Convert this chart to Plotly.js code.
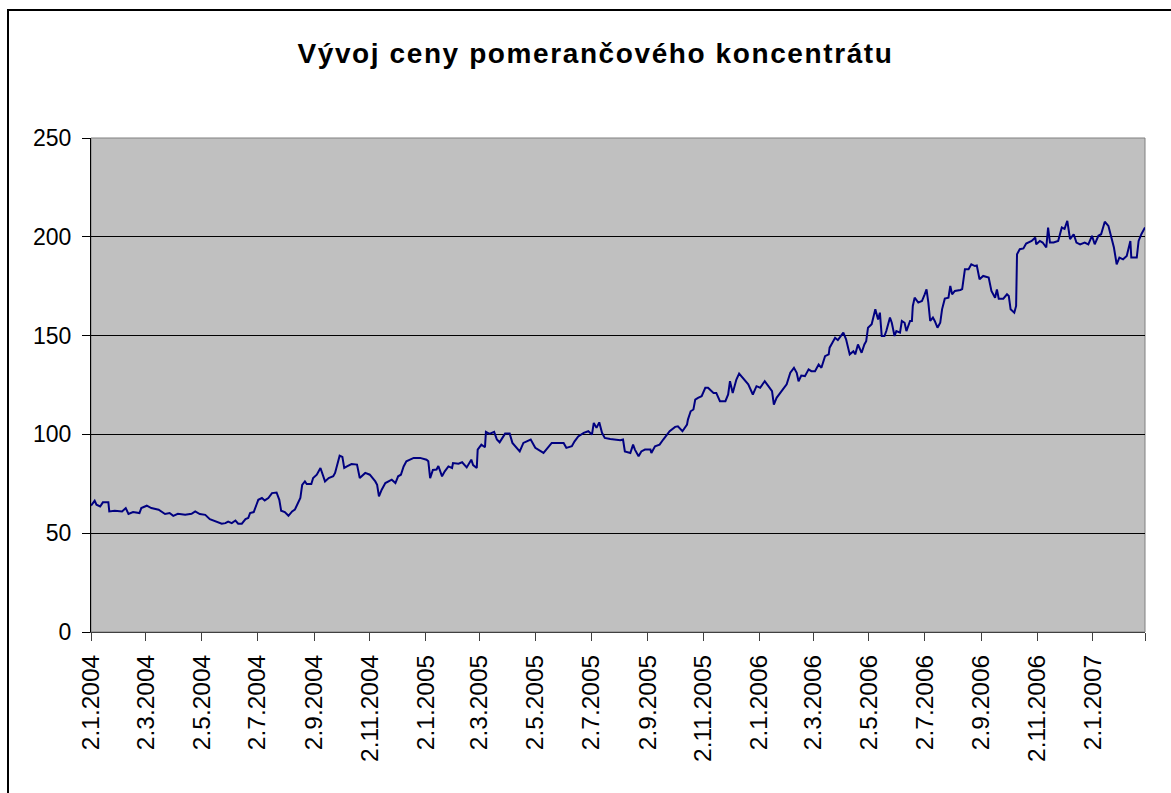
<!DOCTYPE html>
<html>
<head>
<meta charset="utf-8">
<script src="https://cdn.plot.ly/plotly-3.0.1.min.js"></script>
<style>
  html, body { margin: 0; padding: 0; background: #fff; overflow: hidden; }
  #chart { width: 1171px; height: 793px; position: absolute; left: 0; top: 0; }
  #frame { position: absolute; left: 7px; top: 9px; width: 1300px; height: 1000px;
           border: 2px solid #000; pointer-events: none; box-sizing: border-box; }
  .gtitle { letter-spacing: 1.6px; }
</style>
</head>
<body>
<div id="chart"></div>
<div id="frame"></div>
<script>
// Price of orange juice concentrate
const dates2004 = ["2004-01-02","2004-01-06","2004-01-08","2004-01-12","2004-01-15","2004-01-21","2004-01-22","2004-01-28",
  "2004-02-05","2004-02-09","2004-02-12","2004-02-17","2004-02-24","2004-02-26","2004-03-03","2004-03-08","2004-03-16",
  "2004-03-23","2004-03-28","2004-04-01","2004-04-06","2004-04-14","2004-04-21","2004-04-25","2004-04-30","2004-05-06",
  "2004-05-11","2004-05-19","2004-05-24","2004-05-28","2004-05-31","2004-06-04","2004-06-08","2004-06-11","2004-06-15",
  "2004-06-19","2004-06-22","2004-06-24","2004-06-28","2004-07-01","2004-07-03","2004-07-07","2004-07-10","2004-07-14",
  "2004-07-18","2004-07-23","2004-07-26","2004-07-28","2004-08-01","2004-08-05","2004-08-09","2004-08-12","2004-08-18",
  "2004-08-20","2004-08-23","2004-08-25","2004-08-30","2004-09-01","2004-09-05","2004-09-09","2004-09-14","2004-09-18",
  "2004-09-23","2004-09-25","2004-09-28","2004-09-30","2004-10-03","2004-10-05","2004-10-08","2004-10-13","2004-10-19",
  "2004-10-22","2004-10-28","2004-11-02","2004-11-08","2004-11-10","2004-11-12","2004-11-15","2004-11-19","2004-11-22",
  "2004-11-26","2004-11-30","2004-12-03","2004-12-06","2004-12-09","2004-12-12","2004-12-15","2004-12-20","2004-12-27"];
const values2004 = [64.0,66.4,64.4,63.5,65.6,65.6,61.0,61.4,
  61.0,62.7,59.7,60.7,60.2,62.7,63.9,62.7,61.9,
  59.7,60.2,58.8,59.8,59.3,59.8,61.0,59.7,59.3,
  57.1,55.6,54.8,55.1,55.9,55.1,56.4,54.8,54.8,
  57.1,57.7,60.2,60.7,64.4,66.9,67.8,66.6,67.8,
  70.3,70.6,66.9,61.4,60.7,58.8,61.0,61.9,67.8,
  74.5,76.2,74.9,74.9,77.9,79.6,83.0,76.2,77.9,
  78.8,80.5,86.4,89.2,88.6,83.0,83.8,85.0,84.7,
  77.9,80.5,79.6,76.2,74.5,68.6,72.0,75.4,76.2,
  77.1,75.4,78.8,79.6,83.8,86.4,87.2,88.1,88.1];

const dates2005 = ["2005-01-03","2005-01-05","2005-01-07","2005-01-10","2005-01-14","2005-01-16","2005-01-20","2005-01-23",
  "2005-01-27","2005-01-31","2005-02-01","2005-02-07","2005-02-11","2005-02-16","2005-02-21","2005-02-23","2005-02-27",
  "2005-02-28","2005-03-04","2005-03-08","2005-03-09","2005-03-13","2005-03-18","2005-03-21","2005-03-24","2005-03-30",
  "2005-04-04","2005-04-07","2005-04-12","2005-04-15","2005-04-19","2005-04-23","2005-04-27","2005-05-02","2005-05-05",
  "2005-05-11","2005-05-14","2005-05-20","2005-05-25","2005-06-02","2005-06-05","2005-06-11","2005-06-14","2005-06-18",
  "2005-06-24","2005-06-29","2005-07-03","2005-07-05","2005-07-08","2005-07-11","2005-07-14","2005-07-17","2005-07-23",
  "2005-07-28","2005-08-03","2005-08-06","2005-08-08","2005-08-14","2005-08-17","2005-08-19","2005-08-23","2005-08-26",
  "2005-08-30","2005-09-05","2005-09-06","2005-09-10","2005-09-15","2005-09-19","2005-09-23","2005-09-26","2005-10-02",
  "2005-10-05","2005-10-10","2005-10-15","2005-10-16","2005-10-19","2005-10-22","2005-10-24","2005-10-27","2005-10-31",
  "2005-11-04","2005-11-07","2005-11-13","2005-11-16","2005-11-20","2005-11-26","2005-11-29","2005-12-01","2005-12-04",
  "2005-12-08","2005-12-11","2005-12-16","2005-12-21","2005-12-26","2005-12-30"];
const values2005 = [87.2,86.4,77.9,82.0,82.2,84.0,78.8,81.3,
  83.8,83.0,85.5,85.2,85.9,83.3,87.2,84.5,83.0,
  92.3,94.8,93.5,101.3,100.3,101.3,97.4,96.0,100.4,
  100.4,95.7,93.2,91.4,95.7,96.5,97.4,93.2,92.3,
  90.6,92.3,95.7,95.7,95.7,93.2,94.0,96.5,99.0,
  100.8,101.6,99.9,105.8,103.3,106.1,100.8,98.2,97.7,
  97.4,97.0,97.4,91.4,90.6,94.8,92.3,88.9,91.4,
  92.3,92.3,90.6,94.0,94.8,97.4,99.9,101.6,103.8,
  104.1,101.6,105.0,107.5,111.7,112.6,117.6,118.5,119.3,
  123.6,123.6,121.0,121.0,116.8,116.8,120.2,126.9,121.0,
  127.8,130.8,127.8,125.3,120.2,124.4];

const dates2006 = ["2006-01-03","2006-01-08","2006-01-12","2006-01-16","2006-01-18","2006-01-21","2006-01-25","2006-01-28",
  "2006-02-01","2006-02-05","2006-02-09","2006-02-12","2006-02-14","2006-02-17","2006-02-21","2006-02-25","2006-02-28",
  "2006-03-04","2006-03-08","2006-03-11","2006-03-15","2006-03-19","2006-03-20","2006-03-23","2006-03-26","2006-03-29",
  "2006-03-31","2006-04-04","2006-04-07","2006-04-09","2006-04-11","2006-04-15","2006-04-17","2006-04-20","2006-04-24",
  "2006-04-27","2006-04-29","2006-05-01","2006-05-05","2006-05-09","2006-05-12","2006-05-14","2006-05-16","2006-05-19",
  "2006-05-21","2006-05-25","2006-05-27","2006-05-30","2006-06-01","2006-06-05","2006-06-07","2006-06-10","2006-06-12",
  "2006-06-16","2006-06-18","2006-06-19","2006-06-21","2006-06-25","2006-06-29","2006-07-02","2006-07-04","2006-07-06",
  "2006-07-08","2006-07-11","2006-07-13","2006-07-16","2006-07-19","2006-07-21","2006-07-24","2006-07-28","2006-07-30",
  "2006-08-01","2006-08-04","2006-08-10","2006-08-12","2006-08-15","2006-08-19","2006-08-22","2006-08-26","2006-08-28",
  "2006-08-31","2006-09-04","2006-09-10","2006-09-13","2006-09-17","2006-09-19","2006-09-21","2006-09-26","2006-09-30",
  "2006-10-02","2006-10-04","2006-10-08","2006-10-10","2006-10-11","2006-10-14","2006-10-18","2006-10-21","2006-10-27",
  "2006-10-31","2006-11-01","2006-11-05","2006-11-08","2006-11-12","2006-11-14","2006-11-16","2006-11-20","2006-11-25",
  "2006-11-29","2006-12-02","2006-12-05","2006-12-08","2006-12-12","2006-12-15","2006-12-19","2006-12-24","2006-12-28"];
const values2006 = [123.6,126.9,124.4,121.9,115.1,118.5,121.0,122.7,
  125.3,131.2,133.7,131.2,126.9,129.8,129.5,132.9,132.0,
  132.0,135.4,133.7,139.6,140.5,143.9,146.4,148.9,147.7,
  148.9,151.5,148.1,143.9,140.5,142.1,140.5,145.5,141.3,
  145.5,147.2,154.0,155.7,163.3,158.2,161.6,149.8,149.8,
  152.3,159.1,156.5,149.8,152.3,151.5,157.4,156.5,152.3,
  157.4,157.4,165.0,169.2,166.7,167.5,170.9,173.4,166.7,
  157.4,159.1,157.4,154.0,156.5,163.3,168.7,169.2,175.1,
  170.9,172.6,173.1,173.5,183.6,183.6,186.1,185.2,185.5,
  178.5,180.2,179.4,172.6,169.2,173.4,168.7,168.7,170.9,
  170.0,163.3,161.6,165.0,191.2,193.7,194.1,196.6,197.9,
  199.6,196.2,197.9,197.1,194.6,204.7,197.1,197.1,197.9,
  204.7,204.0,208.1,198.8,201.3,197.1,196.2,197.1,196.2];

const dates2007 = ["2007-01-01","2007-01-04","2007-01-08","2007-01-11","2007-01-15","2007-01-19","2007-01-22","2007-01-25",
  "2007-01-28","2007-01-31","2007-02-04","2007-02-08","2007-02-12","2007-02-13","2007-02-19","2007-02-21","2007-02-24",
  "2007-02-28"];
const values2007 = [200.5,196.2,200.5,201.3,207.6,205.5,200.5,194.6,
  186.1,189.5,188.6,190.3,197.9,189.5,189.5,197.9,201.3,
  204.7];

const tickDates = ["2004-01-02","2004-03-02","2004-05-02","2004-07-02","2004-09-02","2004-11-02",
  "2005-01-02","2005-03-02","2005-05-02","2005-07-02","2005-09-02","2005-11-02",
  "2006-01-02","2006-03-02","2006-05-02","2006-07-02","2006-09-02","2006-11-02",
  "2007-01-02","2007-02-28"];
const tickLabels = ["2.1.2004","2.3.2004","2.5.2004","2.7.2004","2.9.2004","2.11.2004",
  "2.1.2005","2.3.2005","2.5.2005","2.7.2005","2.9.2005","2.11.2005",
  "2.1.2006","2.3.2006","2.5.2006","2.7.2006","2.9.2006","2.11.2006",
  "2.1.2007",""];

const titleText = "Vývoj ceny pomerančového koncentrátu";

const xs = dates2004.concat(dates2005, dates2006, dates2007);
const ys = values2004.concat(values2005, values2006, values2007);

const FONT = "Liberation Sans, Arial, sans-serif";

Plotly.newPlot("chart", [{
  x: xs, y: ys, type: "scatter", mode: "lines",
  line: { color: "#000080", width: 2 },
  hoverinfo: "skip"
}], {
  width: 1171, height: 793,
  margin: { l: 91, r: 26, t: 138, b: 161, pad: 0 },
  paper_bgcolor: "rgba(0,0,0,0)",
  plot_bgcolor: "#C0C0C0",
  showlegend: false,
  title: {
    text: titleText,
    font: { family: FONT, size: 28, color: "#000", weight: "bold" },
    xref: "container", x: 0.5085, xanchor: "center",
    yref: "container", y: 1 - 53 / 793, yanchor: "middle"
  },
  xaxis: {
    type: "date",
    range: ["2004-01-02", "2007-02-28"],
    tickmode: "array", tickvals: tickDates, ticktext: tickLabels,
    tickangle: -90,
    ticks: "outside", ticklen: 8, tickwidth: 1, tickcolor: "#404040",
    showgrid: false, zeroline: false,
    showline: true, linecolor: "#404040", linewidth: 1,
    tickfont: { family: FONT, size: 24.5, color: "#000" },
    ticklabelstandoff: 4
  },
  yaxis: {
    range: [0, 250], tickmode: "linear", tick0: 0, dtick: 50,
    ticks: "outside", ticklen: 8, tickwidth: 1, tickcolor: "#000",
    showgrid: true, gridcolor: "#000", gridwidth: 1,
    zeroline: false,
    showline: true, linecolor: "#000", linewidth: 1,
    tickfont: { family: FONT, size: 23, color: "#000" },
    ticklabelstandoff: 6
  },
  shapes: [{
    type: "rect", xref: "paper", yref: "paper", x0: 0, x1: 1, y0: 0, y1: 1,
    line: { color: "#808080", width: 1 }, layer: "below"
  }]
}, { staticPlot: true, displayModeBar: false });
</script>
</body>
</html>
